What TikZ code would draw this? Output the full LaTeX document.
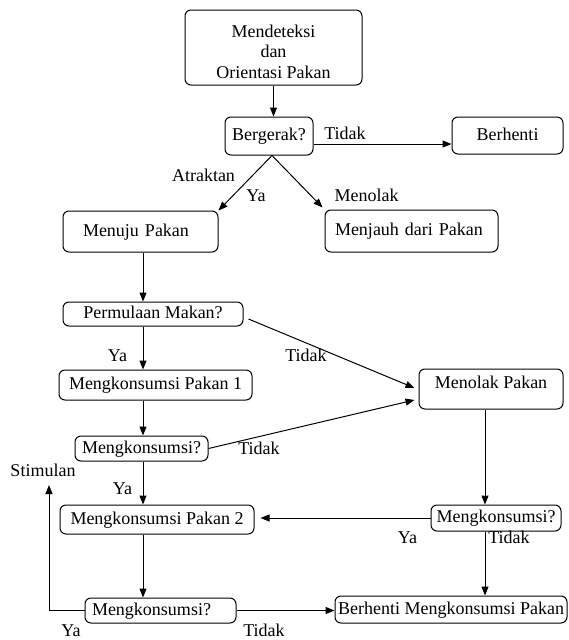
\documentclass[tikz,border=0pt]{standalone}
\usepackage{fontspec}
\setmainfont{Liberation Serif}
\usetikzlibrary{arrows.meta}
\begin{document}
\begin{tikzpicture}[x=1pt,y=-1pt,
  every node/.style={font=\fontsize{18}{20.5}\selectfont},
  boxbase/.style={draw, line width=1pt, rounded corners=6pt, inner sep=0pt},
  box/.style={boxbase, text height=13pt, text depth=4pt},
  lbox/.style={box, align=left},
  lbl/.style={inner sep=0pt, text height=13pt, text depth=4pt},
  arr/.style={line width=1pt, -{Triangle[length=9pt,width=7pt]}},
  ln/.style={line width=1pt}
]
\fill[white] (0,0) rectangle (568,640);
\useasboundingbox (0,0) rectangle (568,640);

% boxes
\node[boxbase, minimum width=177pt, minimum height=75pt] (top) at (273.5,47.5) {};
\node[align=center, inner sep=0pt] (toptext) at (273.5,51.5) {Mendeteksi\\dan\\Orientasi Pakan};
\node[box, minimum width=88pt, minimum height=38pt] (berg) at (269,136) {Bergerak?};
\node[box, minimum width=111pt, minimum height=37pt] (berh) at (507.5,135.5) {Berhenti};
\node[lbox, inner xsep=20pt, text width=115pt, minimum height=41pt] (menuju) at (140.5,231.5) {Menuju Pakan};
\node[lbox, inner xsep=10pt, text width=153pt, minimum height=42pt] (menjauh) at (411.5,231) {Menjauh dari Pakan};
\node[box, minimum width=180pt, minimum height=24pt] (perm) at (153,314) {Permulaan Makan?};
\node[box, minimum width=193pt, minimum height=30pt] (mp1) at (155.5,385) {Mengkonsumsi Pakan 1};
\node[box, minimum width=133pt, minimum height=25pt] (mk1) at (141.5,448.5) {Mengkonsumsi?};
\node[boxbase, minimum width=144pt, text height=19pt, text depth=21pt] (menolak) at (491,389) {Menolak Pakan};
\node[box, minimum width=194pt, minimum height=29pt] (mp2) at (157,519.5) {Mengkonsumsi Pakan 2};
\node[box, minimum width=130pt, minimum height=26pt] (mk2) at (496,518) {Mengkonsumsi?};
\node[lbox, inner xsep=7pt, text width=137pt, minimum height=25pt] (mk3) at (160.5,610.5) {Mengkonsumsi?};
\node[box, minimum width=232pt, minimum height=27pt] (bmp) at (451,609.5) {Berhenti Mengkonsumsi Pakan};

% helper coordinates
\coordinate (colL) at (143,0);
\coordinate (colR) at (485,0);
\coordinate (stim) at (49,485);

% connectors
\draw[arr] (top.south) -- (top.south |- berg.north);
\draw[arr] ([yshift=-8pt]berg.east) -- ([yshift=-8pt]berg.east -| berh.west);
\draw[arr] ([xshift=3pt]berg.south) -- (menuju.north east);
\draw[arr] ([xshift=3pt]berg.south) -- ([xshift=-2pt,yshift=2pt]menjauh.north west);
\draw[arr] (menuju.south -| colL) -- (perm.north -| colL);
\draw[arr] (perm.south -| colL) -- (mp1.north -| colL);
\draw[arr] (mp1.south -| colL) -- (mk1.north -| colL);
\draw[arr] (mk1.south -| colL) -- (mp2.north -| colL);
\draw[arr] (mp2.south -| colL) -- (mk3.north -| colL);
\draw[arr] ([xshift=5pt,yshift=-5pt]perm.east) -- ([xshift=-4pt,yshift=1pt]menolak.west);
\draw[arr] (mk1.east) -- ([xshift=-4pt,yshift=-11pt]menolak.west);
\draw[arr] (menolak.south -| colR) -- (mk2.north -| colR);
\draw[arr] (mk2.west) -- ([xshift=6pt]mk2.west -| mp2.east);
\draw[arr] (mk2.south -| colR) -- (bmp.north -| colR);
\draw[arr] (mk3.east) -- (mk3.east -| bmp.west);
\draw[arr] (mk3.west) -| (stim);

% labels
\node[lbl] (l1) at (345,135) {Tidak};
\node[lbl] (l2) at (203.5,177) {Atraktan};
\node[lbl] (l3) at (256,197) {Ya};
\node[lbl] (l4) at (366.5,197) {Menolak};
\node[lbl] (l5) at (117.5,357) {Ya};
\node[lbl] (l6) at (306,357) {Tidak};
\node[lbl] (l7) at (259,450) {Tidak};
\node[lbl] (l8) at (43,472) {Stimulan};
\node[lbl] (l9) at (122.5,490) {Ya};
\node[lbl] (l10) at (407.5,539) {Ya};
\node[lbl] (l11) at (509,539) {Tidak};
\node[lbl] (l12) at (71,632) {Ya};
\node[lbl] (l13) at (264,632) {Tidak};
\end{tikzpicture}
\end{document}
